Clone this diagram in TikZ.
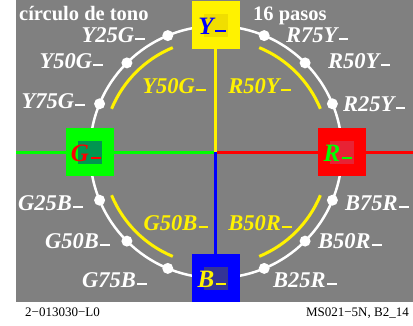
\documentclass[tikz,border=0pt]{standalone}
\usepackage{fontspec}
\setmainfont{Liberation Serif}
\usepackage{tikz}
\usetikzlibrary{positioning}

\definecolor{bg}{RGB}{128,128,128}
\definecolor{yinner}{RGB}{240,222,0}
\definecolor{ginner}{RGB}{0,150,80}
\definecolor{rinner}{RGB}{232,34,52}
\definecolor{binner}{RGB}{52,52,150}

\newcommand{\lowdash}{\kern0.06em\rule[0.1em]{0.42em}{0.075em}}

\begin{document}
\begin{tikzpicture}[x=1pt,y=1pt]
            \tikzstyle{lab}=[inner sep=0pt,font=\fontsize{22.5}{22.5}\selectfont\bfseries\itshape]
            \tikzstyle{wlab}=[lab,text=white,anchor=base east]   % left side
            \tikzstyle{elab}=[lab,text=white,anchor=base west]   % right side
            \tikzstyle{ylab}=[lab,text=yellow,anchor=base]       % inner labels
            \tikzstyle{sqlab}=[lab,anchor=base,font=\fontsize{25}{25}\selectfont\bfseries\itshape]
            \tikzstyle{dot}=[circle,fill=white,inner sep=0pt,minimum size=11pt]
            \tikzstyle{sq}=[rectangle,minimum width=48pt,minimum height=48pt,inner sep=0pt]
            \tikzstyle{isq}=[rectangle,minimum width=24pt,minimum height=23pt,inner sep=0pt]
            \tikzstyle{note}=[inner sep=0pt,text=white,font=\fontsize{20.5}{20.5}\selectfont\bfseries]
            \tikzstyle{foot}=[inner sep=0pt,font=\fontsize{13}{13}\selectfont]
            \tikzstyle{axis}=[line width=3pt]
            \tikzstyle{yarc}=[line width=3pt,yellow]

            \useasboundingbox (-216,-173) rectangle (197,152);
            \fill[bg] (-200,-150) rectangle (197,152);

            \coordinate (O) at (0,0);
            \coordinate (W) at (-200,0);
            \coordinate (E) at (197,0);
            \coordinate (Yc) at (0,127);
            \coordinate (Gc) at (-126,0);
            \coordinate (Rc) at (126,0);
            \coordinate (Bc) at (0,-126);

            \draw[axis,green] (W) -- (O);
            \draw[axis,red] (O) -- (E);
            \draw[axis,yellow] (O) -- (Yc);
            \draw[axis,blue] (O) -- (Bc);

            \draw[white,line width=2.5pt] (O) circle[radius=126];

            \draw[yarc] (22.5:113) arc[start angle=22.5,end angle=67.5,radius=113];
            \draw[yarc] (112.5:113) arc[start angle=112.5,end angle=157.5,radius=113];
            \draw[yarc] (202.5:113) arc[start angle=202.5,end angle=247.5,radius=113];
            \draw[yarc] (292.5:113) arc[start angle=292.5,end angle=337.5,radius=113];

            % hue squares
            \node[sq,fill=yellow] (Ysq) at (Yc) {};
            \node[isq,fill=yinner] (Yin) at (Yc) {};
            \node[sqlab,text=blue] (Ytx) at ([xshift=-4pt,yshift=-9pt]Yc) {Y\lowdash};
            \node[sq,fill=green] (Gsq) at (Gc) {};
            \node[isq,fill=ginner] (Gin) at (Gc) {};
            \node[sqlab,text=red] (Gtx) at ([xshift=-4pt,yshift=-9pt]Gc) {G\lowdash};
            \node[sq,fill=red] (Rsq) at (Rc) {};
            \node[isq,fill=rinner] (Rin) at (Rc) {};
            \node[sqlab,text=green] (Rtx) at ([xshift=-4pt,yshift=-9pt]Rc) {R\lowdash};
            \node[sq,fill=blue] (Bsq) at (Bc) {};
            \node[isq,fill=binner] (Bin) at (Bc) {};
            \node[sqlab,text=yellow] (Btx) at ([xshift=-4pt,yshift=-9pt]Bc) {B\lowdash};

            % intermediate steps
            \node[dot] (r75y) at (67.5:126) {};
            \node[dot] (r50y) at (45:126) {};
            \node[dot] (r25y) at (22.5:126) {};
            \node[dot] (y25g) at (112.5:126) {};
            \node[dot] (y50g) at (135:126) {};
            \node[dot] (y75g) at (157.5:126) {};
            \node[dot] (g25b) at (202.5:126) {};
            \node[dot] (g50b) at (225:126) {};
            \node[dot] (g75b) at (247.5:126) {};
            \node[dot] (b25r) at (292.5:126) {};
            \node[dot] (b50r) at (315:126) {};
            \node[dot] (b75r) at (337.5:126) {};

            \node[wlab] (Ly25g) at (-71,110) {Y25G\lowdash};
            \node[wlab] (Ly50g) at (-113,84) {Y50G\lowdash};
            \node[wlab] (Ly75g) at (-131,44) {Y75G\lowdash};
            \node[wlab] (Lg25b) at (-133,-58) {G25B\lowdash};
            \node[wlab] (Lg50b) at (-106,-96) {G50B\lowdash};
            \node[wlab] (Lg75b) at (-69,-135) {G75B\lowdash};
            \node[elab] (Lr75y) at (70,110) {R75Y\lowdash};
            \node[elab] (Lr50y) at (112,84) {R50Y\lowdash};
            \node[elab] (Lr25y) at (127,41) {R25Y\lowdash};
            \node[elab] (Lb75r) at (129,-58) {B75R\lowdash};
            \node[elab] (Lb50r) at (102,-96) {B50R\lowdash};
            \node[elab] (Lb25r) at (57,-135) {B25R\lowdash};

            \node[ylab] (Iy50g) at (-42,59) {Y50G\lowdash};
            \node[ylab] (Ir50y) at (43.5,59) {R50Y\lowdash};
            \node[ylab] (Ig50b) at (-40,-78) {G50B\lowdash};
            \node[ylab] (Ib50r) at (44,-78) {B50R\lowdash};

            \node[note,anchor=base west] (title) at (-197,132) {círculo de tono};
            \node[note,anchor=base west] (steps) at (37,132) {16 pasos};
            \node[foot,anchor=base west] (code) at (-191,-164) {2−013030−L0};
            \node[foot,anchor=base east] (ref) at (193,-164) {MS021−5N, B2\_14};
        \end{tikzpicture}
\end{document}
